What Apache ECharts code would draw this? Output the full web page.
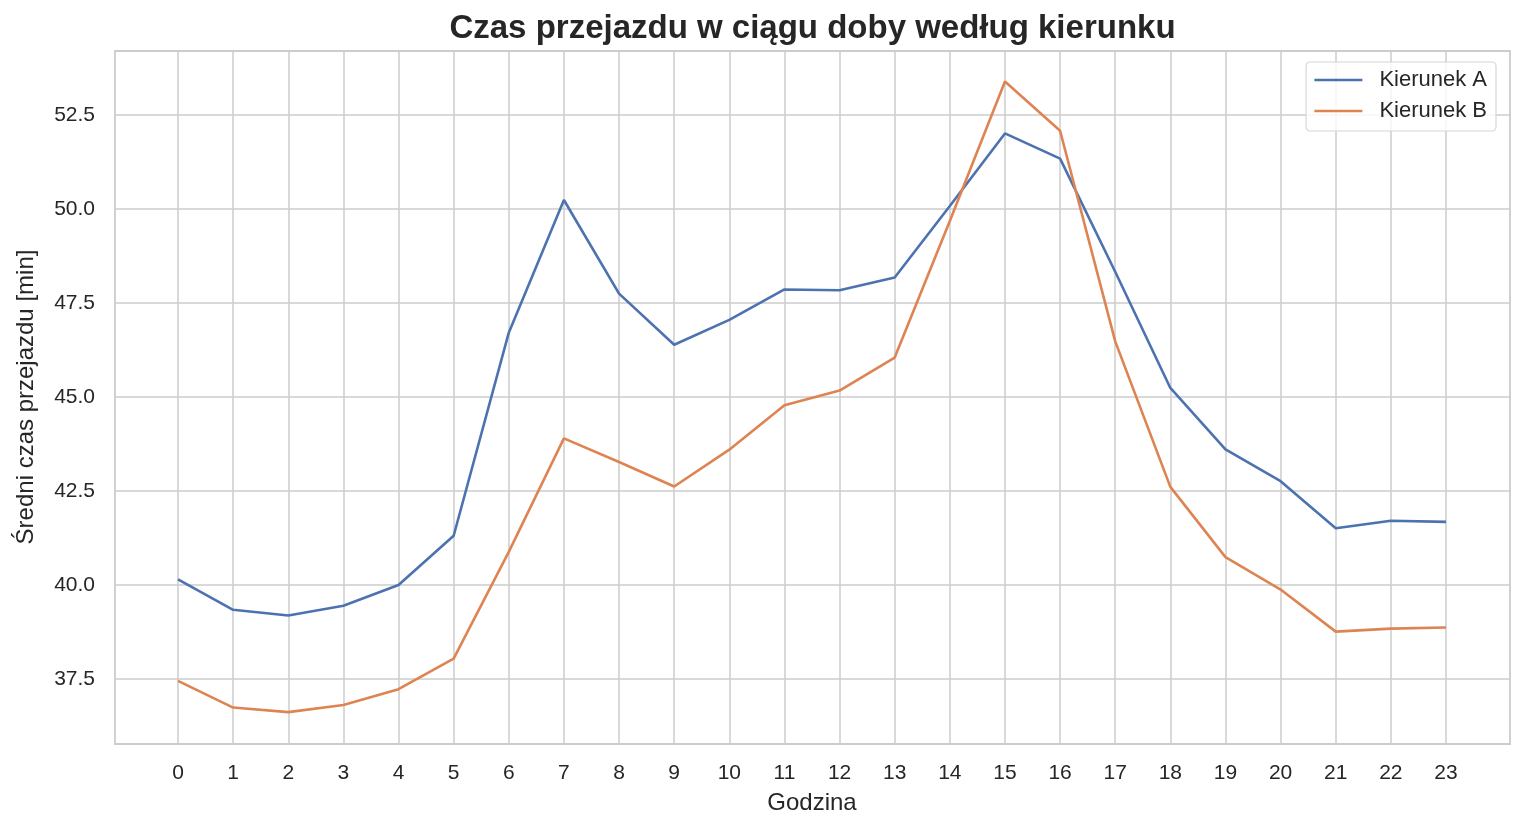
<!DOCTYPE html>
<html>
<head>
<meta charset="utf-8">
<script src="https://cdn.jsdelivr.net/npm/echarts@6/dist/echarts.min.js"></script>
<style>
  html, body { margin: 0; padding: 0; background: #fff; }
  #chart { width: 1524px; height: 830px; }
</style>
</head>
<body>
<div id="chart"></div>
<script>
// dane
const godziny = [0, 1, 2, 3, 4, 5, 6, 7, 8, 9, 10, 11, 12, 13, 14, 15, 16, 17, 18, 19, 20, 21, 22, 23];
const kierunekA = [40.15, 39.34, 39.19, 39.45, 40.0, 41.31, 46.71, 50.24, 47.75, 46.39, 47.05, 47.86,
                   47.84, 48.18, 50.08, 52.01, 51.34, 48.33, 45.24, 43.61, 42.76, 41.51, 41.71, 41.68];
const kierunekB = [37.45, 36.74, 36.62, 36.81, 37.23, 38.04, 40.88, 43.90, 43.27, 42.62, 43.60, 44.78,
                   45.17, 46.05, 49.68, 53.39, 52.08, 46.48, 42.61, 40.74, 39.88, 38.76, 38.84, 38.87];
const yTicks = [37.5, 40.0, 42.5, 45.0, 47.5, 50.0, 52.5];

const FONT = 'Liberation Sans, Arial, sans-serif';
const TXT = '#262626';
const GRID = '#cccccc';

// obszar wykresu (ramka) i pozycje skrajnych znaczników
const frame = { left: 115, top: 51, width: 1395, height: 693 };
const xIn = { left: 178, width: 1268 };       // x = 0 .. 23
const yIn = { top: 115, height: 564 };        // y = 37.5 .. 52.5

const chart = echarts.init(document.getElementById('chart'), null, { renderer: 'canvas' });

const option = {
    animation: false,
    backgroundColor: '#ffffff',
    title: {
        text: 'Czas przejazdu w ciągu doby według kierunku',
        left: frame.left + frame.width / 2,
        top: 12,
        padding: 0,
        textAlign: 'center',
        textStyle: { fontFamily: FONT, fontSize: 33, fontWeight: 'bold', color: TXT }
    },
    legend: {
        orient: 'vertical',
        right: 28,
        top: 62,
        padding: [7, 9, 9, 7],
        itemWidth: 48,
        itemHeight: 22,
        itemGap: 9,
        itemStyle: { opacity: 0 },
        lineStyle: { width: 2.6 },
        backgroundColor: 'rgba(255,255,255,0.8)',
        borderColor: '#d6d6d6',
        borderWidth: 1.2,
        borderRadius: 4,
        textStyle: { fontFamily: FONT, fontSize: 22, color: TXT, padding: [0, 0, 0, 12] },
        data: ['Kierunek A', 'Kierunek B']
    },
    grid: [
        // 0: ramka
        { left: frame.left, top: frame.top, width: frame.width, height: frame.height,
          show: true, borderColor: GRID, borderWidth: 1.8, backgroundColor: 'transparent' },
        // 1: oś Y z liniami siatki na całą szerokość
        { left: frame.left, top: yIn.top, width: frame.width, height: yIn.height },
        // 2: oś X z liniami siatki na całą wysokość
        { left: xIn.left, top: frame.top, width: xIn.width, height: frame.height },
        // 3: dane
        { left: xIn.left, top: yIn.top, width: xIn.width, height: yIn.height }
    ],
    xAxis: [
        { gridIndex: 0, type: 'value', show: false, min: 0, max: 1 },
        { gridIndex: 1, type: 'value', show: false, min: 0, max: 1 },
        {
            gridIndex: 2, type: 'value', min: godziny[0], max: godziny[godziny.length - 1], interval: 1,
            name: 'Godzina', nameLocation: 'middle', nameGap: 47,
            nameTextStyle: { fontFamily: FONT, fontSize: 24, color: TXT },
            axisLine: { show: false }, axisTick: { show: false },
            axisLabel: { fontFamily: FONT, fontSize: 21, color: TXT, margin: 19 },
            splitLine: { show: true, lineStyle: { color: GRID, width: 1.5 } }
        },
        { gridIndex: 3, type: 'value', show: false, min: godziny[0], max: godziny[godziny.length - 1] }
    ],
    yAxis: [
        { gridIndex: 0, type: 'value', show: false, min: 0, max: 1 },
        {
            gridIndex: 1, type: 'value', min: yTicks[0], max: yTicks[yTicks.length - 1], interval: 2.5,
            name: 'Średni czas przejazdu [min]', nameLocation: 'middle', nameGap: 77,
            nameTextStyle: { fontFamily: FONT, fontSize: 24, color: TXT },
            axisLine: { show: false }, axisTick: { show: false },
            axisLabel: { fontFamily: FONT, fontSize: 21, color: TXT, margin: 20,
                         formatter: v => v.toFixed(1) },
            splitLine: { show: true, lineStyle: { color: GRID, width: 1.5 } }
        },
        { gridIndex: 2, type: 'value', show: false, min: 0, max: 1 },
        { gridIndex: 3, type: 'value', show: false, min: yTicks[0], max: yTicks[yTicks.length - 1] }
    ],
    series: [
        {
            name: 'Kierunek A', type: 'line', xAxisIndex: 3, yAxisIndex: 3,
            data: godziny.map((h, i) => [h, kierunekA[i]]),
            symbol: 'none', clip: false, z: 3,
            itemStyle: { color: '#4c72b0' },
            lineStyle: { color: '#4c72b0', width: 2.6 }
        },
        {
            name: 'Kierunek B', type: 'line', xAxisIndex: 3, yAxisIndex: 3,
            data: godziny.map((h, i) => [h, kierunekB[i]]),
            symbol: 'none', clip: false, z: 3,
            itemStyle: { color: '#dd8452' },
            lineStyle: { color: '#dd8452', width: 2.6 }
        }
    ]
};

option && chart.setOption(option);
</script>
</body>
</html>
